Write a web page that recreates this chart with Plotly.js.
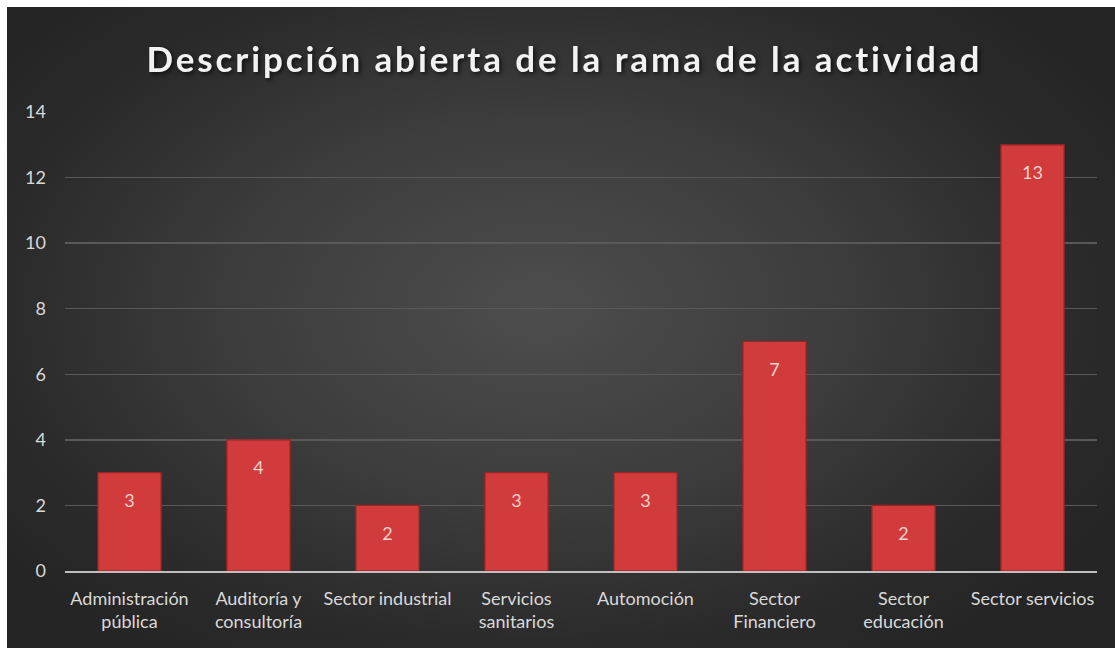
<!DOCTYPE html>
<html>
<head>
<meta charset="utf-8">
<script src="https://cdn.plot.ly/plotly-3.0.1.min.js"></script>
<style>
  html, body { margin: 0; padding: 0; background: #ffffff; width: 1115px; height: 648px; overflow: hidden; }
  #wrap { position: absolute; left: 7px; top: 7px; width: 1108px; height: 641px;
    background: radial-gradient(ellipse 60% 65% at 48% 47%, #4d4d4d 0%, #3d3d3d 45%, #2b2b2b 80%, #252525 100%); }
  #chart { width: 1108px; height: 641px; }
  .gtitle { letter-spacing: 2.9px; filter: drop-shadow(2px 2px 2px rgba(0,0,0,0.65)); }
</style>
</head>
<body>
<div id="wrap"><div id="chart"></div></div>
<script>
const categories = [
  "Administración<br>pública",
  "Auditoría y<br>consultoría",
  "Sector industrial",
  "Servicios<br>sanitarios",
  "Automoción",
  "Sector<br>Financiero",
  "Sector<br>educación",
  "Sector servicios"
];
const values = [3, 4, 2, 3, 3, 7, 2, 13];
const yTicks = [0, 2, 4, 6, 8, 10, 12, 14];
const titleText = "Descripción abierta de la rama de la actividad";

const FONT = "Lato, 'Open Sans', sans-serif";

const bars = {
  type: "bar",
  x: categories,
  y: values,
  marker: {
    color: "#d13b3b",
    line: { color: "#9a2323", width: 1.2 }
  },
  hoverinfo: "skip"
};

const labels = {
  type: "scatter",
  mode: "markers+text",
  x: categories,
  y: values,
  text: values.map(String),
  textposition: "bottom center",
  textfont: { family: FONT, size: 18, color: "#f6d3cb" },
  marker: { size: 32, opacity: 0, color: "#d13b3b" },
  cliponaxis: false,
  hoverinfo: "skip"
};

const layout = {
  width: 1108,
  height: 641,
  paper_bgcolor: "rgba(0,0,0,0)",
  plot_bgcolor: "rgba(0,0,0,0)",
  margin: { l: 58, r: 18, t: 105, b: 77 },
  bargap: 0.51,
  showlegend: false,
  title: {
    text: "<b>" + titleText + "</b>",
    font: { family: FONT, size: 35, color: "#f2f2f2" },
    x: 0.503,
    xanchor: "center",
    y: 0.918,
    yanchor: "middle",
    automargin: false
  },
  xaxis: {
    type: "category",
    range: [-0.5, categories.length - 0.5],
    automargin: false,
    tickfont: { family: FONT, size: 18, color: "#d9d9d9" },
    showline: true,
    linecolor: "#bfbfbf",
    linewidth: 2,
    showgrid: false,
    ticks: "",
    ticklabelstandoff: 10,
    fixedrange: true
  },
  yaxis: {
    range: [0, 14],
    automargin: false,
    tickvals: yTicks,
    ticktext: yTicks.map(String),
    tickfont: { family: FONT, size: 18, color: "#d9d9d9" },
    showgrid: true,
    gridcolor: "#595959",
    gridwidth: 1.5,
    zeroline: false,
    showline: false,
    ticks: "",
    ticklabelstandoff: 18,
    fixedrange: true
  }
};

Plotly.newPlot("chart", [bars, labels], layout, { displayModeBar: false, staticPlot: true });
</script>
</body>
</html>
